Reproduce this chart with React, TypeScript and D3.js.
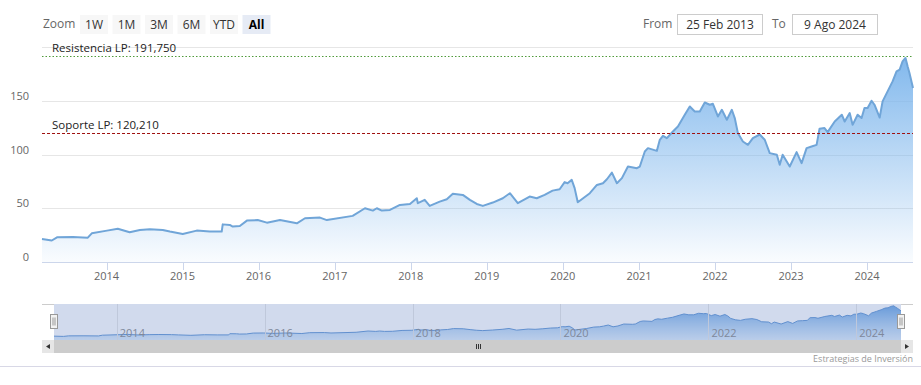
import React, { useEffect, useRef } from "react";
import * as d3 from "d3";

// weekly-ish closes
const dates = [
  "2013-02-25", "2013-04-13", "2013-05-08", "2013-07-23", "2013-10-03", "2013-10-22",
  "2014-01-03", "2014-02-24", "2014-04-22", "2014-06-10", "2014-07-28", "2014-09-28", "2014-11-01",
  "2015-01-02", "2015-03-10", "2015-05-12", "2015-07-08", "2015-07-13", "2015-08-16", "2015-08-30",
  "2015-10-03", "2015-11-06", "2015-12-28",
  "2016-02-10", "2016-04-13", "2016-07-03", "2016-08-11", "2016-10-22", "2016-11-24",
  "2017-03-28", "2017-05-26", "2017-07-03", "2017-07-22", "2017-08-15", "2017-09-23", "2017-11-10", "2017-12-28",
  "2018-01-30", "2018-02-04", "2018-03-09", "2018-04-02", "2018-05-20", "2018-06-23", "2018-07-22",
  "2018-09-08", "2018-10-12", "2018-11-14", "2018-12-13",
  "2019-01-30", "2019-03-19", "2019-04-22", "2019-05-30", "2019-07-26", "2019-08-29", "2019-10-06",
  "2019-11-13", "2019-12-17",
  "2020-01-10", "2020-01-24", "2020-02-13", "2020-02-27", "2020-03-13", "2020-05-10", "2020-06-13",
  "2020-07-12", "2020-07-31", "2020-08-24", "2020-09-17", "2020-10-11", "2020-11-09", "2020-12-22",
  "2021-01-05", "2021-01-29", "2021-02-13", "2021-03-28", "2021-04-11", "2021-04-26", "2021-05-15",
  "2021-06-13", "2021-07-07", "2021-08-09", "2021-09-02", "2021-09-26", "2021-10-20", "2021-11-13",
  "2021-12-07", "2021-12-22",
  "2022-01-15", "2022-02-03", "2022-02-27", "2022-03-23", "2022-04-06", "2022-04-21", "2022-05-15",
  "2022-06-08", "2022-07-02", "2022-08-04", "2022-08-28", "2022-09-21", "2022-10-25", "2022-11-08",
  "2022-11-22", "2022-12-26",
  "2023-01-28", "2023-02-21", "2023-03-17", "2023-04-10", "2023-05-04", "2023-05-18", "2023-06-11",
  "2023-06-26", "2023-07-30", "2023-09-02", "2023-09-16", "2023-10-10", "2023-10-24", "2023-11-17",
  "2023-12-06", "2023-12-20",
  "2024-01-04", "2024-01-23", "2024-02-06", "2024-03-02", "2024-03-16", "2024-04-09", "2024-05-03",
  "2024-05-22", "2024-06-06", "2024-06-20", "2024-07-04", "2024-07-14", "2024-07-23", "2024-08-09",
];

const closes = [
  21.4, 20.0, 23.0, 23.3, 22.6, 26.7,
  29.2, 31.0, 27.7, 29.8, 30.4, 29.8, 28.3,
  26.0, 29.2, 28.3, 28.3, 35.0, 34.5, 33.0,
  33.5, 38.5, 39.0,
  36.6, 39.0, 36.0, 40.7, 41.3, 39.0,
  42.9, 50.0, 47.8, 50.0, 47.8, 48.4, 53.1, 54.0,
  59.3, 54.7, 57.8, 52.2, 56.2, 58.4, 63.4,
  62.4, 57.8, 54.0, 52.2,
  55.3, 59.3, 64.0, 54.7, 60.9, 59.3, 62.4,
  66.4, 67.7,
  74.3, 73.3, 76.4, 68.7, 55.6, 64.0, 71.7,
  73.3, 77.0, 83.2, 73.3, 78.0, 88.8, 87.3,
  88.8, 102.8, 105.9, 103.4, 113.7, 117.4, 115.2,
  121.4, 126.0, 137.0, 144.7, 140.0, 140.0, 148.4,
  146.3, 147.2,
  135.4, 141.6, 132.3, 141.6, 133.9, 119.9, 112.1,
  109.0, 115.2, 118.6, 113.7, 101.3, 99.7, 90.4,
  99.7, 88.8,
  102.2, 92.0, 105.9, 107.4, 109.0, 123.9, 124.6,
  120.8, 130.7, 137.0, 130.7, 138.5, 127.6, 137.0,
  133.9, 143.2,
  143.2, 150.0, 146.3, 134.4, 149.4, 158.7, 168.0,
  177.3, 178.9, 186.6, 189.8, 182.0, 175.8, 161.8,
];

const yTicks = [0, 50, 100, 150, 200];
const navYears = [2014, 2016, 2018, 2020, 2022, 2024];
const zoomButtons = ["1W", "1M", "3M", "6M", "YTD", "All"];
const plotLines = [
  { value: 191.75, label: "Resistencia LP: 191,750", color: "#4f9a3a", dash: "1.5,2" },
  { value: 120.21, label: "Soporte LP: 120,210", color: "#a01010", dash: "3,2" },
];
const fromLabel = "25 Feb 2013";
const toLabel = "9 Ago 2024";
const credits = "Estrategias de Inversión";

const font = "'Open Sans', 'DejaVu Sans', sans-serif";

export default function App() {
  const ref = useRef<SVGSVGElement>(null);

  useEffect(() => {
    const W = 921,
      H = 385;
    const plot = { left: 42, right: 913, top: 47, bottom: 262 };
    const nav = { left: 54, right: 901, top: 304, bottom: 340 };

    const parse = d3.timeParse("%Y-%m-%d");
    const data = dates.map((d, i) => ({ date: parse(d) as Date, value: closes[i] }));
    const start = data[0].date;
    const end = data[data.length - 1].date;

    const svgRoot = d3.select(ref.current);
    svgRoot.selectAll("*").remove();
    const svg = svgRoot
      .attr("width", W)
      .attr("height", H)
      .style("font-family", font);

    svg.append("rect").attr("width", W).attr("height", H).attr("fill", "#fff");

    const defs = svg.append("defs");
    const grad = defs
      .append("linearGradient")
      .attr("id", "areaGrad")
      .attr("gradientUnits", "userSpaceOnUse")
      .attr("x1", 0)
      .attr("x2", 0)
      .attr("y1", plot.top)
      .attr("y2", plot.bottom);
    grad.append("stop").attr("offset", 0).attr("stop-color", "#7cb5ec").attr("stop-opacity", 1);
    grad.append("stop").attr("offset", 1).attr("stop-color", "#7cb5ec").attr("stop-opacity", 0.04);

    const navGrad = defs
      .append("linearGradient")
      .attr("id", "navGrad")
      .attr("gradientUnits", "userSpaceOnUse")
      .attr("x1", 0)
      .attr("x2", 0)
      .attr("y1", nav.top)
      .attr("y2", nav.bottom);
    navGrad.append("stop").attr("offset", 0).attr("stop-color", "#5b9be0").attr("stop-opacity", 0.95);
    navGrad.append("stop").attr("offset", 1).attr("stop-color", "#7cb5ec").attr("stop-opacity", 0.25);

    // ---- main chart
    const x = d3.scaleTime().domain([start, end]).range([plot.left, plot.right]);
    const y = d3.scaleLinear().domain([0, 200]).range([plot.bottom, plot.top]);

    // grid
    svg
      .append("g")
      .selectAll("line")
      .data(yTicks.slice(1))
      .join("line")
      .attr("x1", plot.left)
      .attr("x2", plot.right)
      .attr("y1", (d) => Math.round(y(d)) + 0.5)
      .attr("y2", (d) => Math.round(y(d)) + 0.5)
      .attr("stroke", "#e6e6e6");

    // y labels (top one hidden)
    svg
      .append("g")
      .selectAll("text")
      .data(yTicks.slice(0, -1))
      .join("text")
      .attr("x", 29)
      .attr("y", (d) => y(d) - 1)
      .attr("text-anchor", "end")
      .attr("fill", "#666")
      .style("font-size", "11px")
      .text((d) => d);

    const area = d3
      .area<{ date: Date; value: number }>()
      .x((d) => x(d.date))
      .y0(plot.bottom)
      .y1((d) => y(d.value));
    const line = d3
      .line<{ date: Date; value: number }>()
      .x((d) => x(d.date))
      .y((d) => y(d.value));

    svg.append("path").datum(data).attr("d", area).attr("fill", "url(#areaGrad)");
    svg
      .append("path")
      .datum(data)
      .attr("d", line)
      .attr("fill", "none")
      .attr("stroke", "#70a5d8")
      .attr("stroke-width", 2)
      .attr("stroke-linejoin", "round");

    // x axis
    const xAxis = svg.append("g");
    xAxis
      .append("line")
      .attr("x1", plot.left)
      .attr("x2", plot.right)
      .attr("y1", plot.bottom + 0.5)
      .attr("y2", plot.bottom + 0.5)
      .attr("stroke", "#ccd6eb");
    const years = x.ticks(d3.timeYear.every(1));
    xAxis
      .selectAll("line.tick")
      .data(years)
      .join("line")
      .attr("class", "tick")
      .attr("x1", (d) => Math.round(x(d)) + 0.5)
      .attr("x2", (d) => Math.round(x(d)) + 0.5)
      .attr("y1", plot.bottom)
      .attr("y2", plot.bottom + 8)
      .attr("stroke", "#ccd6eb");
    xAxis
      .selectAll("text")
      .data(years)
      .join("text")
      .attr("x", (d) => x(d))
      .attr("y", 280)
      .attr("text-anchor", "middle")
      .attr("fill", "#666")
      .style("font-size", "11px")
      .text((d) => d3.timeFormat("%Y")(d));

    // plot lines
    const pl = svg.append("g").selectAll("g").data(plotLines).join("g");
    pl.append("line")
      .attr("x1", plot.left)
      .attr("x2", plot.right)
      .attr("y1", (d) => Math.round(y(d.value)) + 0.5)
      .attr("y2", (d) => Math.round(y(d.value)) + 0.5)
      .attr("stroke", (d) => d.color)
      .attr("stroke-dasharray", (d) => d.dash);
    pl.append("text")
      .attr("x", 52)
      .attr("y", (d) => y(d.value) - 4)
      .attr("fill", "#222")
      .style("font-size", "11.5px")
      .text((d) => d.label);

    // ---- range selector
    svg
      .append("text")
      .attr("x", 43)
      .attr("y", 28)
      .attr("fill", "#666")
      .style("font-size", "12px")
      .text("Zoom");
    const btn = svg
      .append("g")
      .selectAll("g")
      .data(zoomButtons)
      .join("g")
      .attr("transform", (d, i) => `translate(${80 + i * 32.5},15)`);
    btn
      .append("rect")
      .attr("width", 28)
      .attr("height", 19)
      .attr("fill", (d) => (d === "All" ? "#e6ebf5" : "#f7f7f7"));
    btn
      .append("text")
      .attr("x", 14)
      .attr("y", 13.5)
      .attr("text-anchor", "middle")
      .attr("fill", (d) => (d === "All" ? "#000" : "#333"))
      .style("font-weight", (d) => (d === "All" ? "bold" : "normal"))
      .style("font-size", "12px")
      .text((d) => d);

    const inputs = [
      { label: "From", lx: 643, bx: 677, text: fromLabel },
      { label: "To", lx: 772, bx: 792, text: toLabel },
    ];
    const inp = svg.append("g").selectAll("g").data(inputs).join("g");
    inp
      .append("text")
      .attr("x", (d) => d.lx)
      .attr("y", 28)
      .attr("fill", "#666")
      .style("font-size", "12px")
      .text((d) => d.label);
    inp
      .append("rect")
      .attr("x", (d) => d.bx + 0.5)
      .attr("y", 14.5)
      .attr("width", 85)
      .attr("height", 20)
      .attr("fill", "#fff")
      .attr("stroke", "#cccccc");
    inp
      .append("text")
      .attr("x", (d) => d.bx + 43)
      .attr("y", 28.5)
      .attr("text-anchor", "middle")
      .attr("fill", "#333")
      .style("font-size", "12px")
      .text((d) => d.text);

    // ---- navigator
    const nx = d3.scaleTime().domain([start, end]).range([nav.left, nav.right]);
    const ny = d3.scaleLinear().domain([0, 200]).range([nav.bottom, nav.top]);

    const navG = svg.append("g");
    navG
      .append("path")
      .datum(data)
      .attr(
        "d",
        d3
          .area<{ date: Date; value: number }>()
          .x((d) => nx(d.date))
          .y0(nav.bottom)
          .y1((d) => ny(d.value))
      )
      .attr("fill", "url(#navGrad)");
    navG
      .append("path")
      .datum(data)
      .attr(
        "d",
        d3
          .line<{ date: Date; value: number }>()
          .x((d) => nx(d.date))
          .y((d) => ny(d.value))
      )
      .attr("fill", "none")
      .attr("stroke", "#5f95d4")
      .attr("stroke-width", 1);

    const navTicks = navYears.map((yr) => new Date(yr, 0, 1));
    navG
      .selectAll("line.grid")
      .data(navTicks)
      .join("line")
      .attr("class", "grid")
      .attr("x1", (d) => Math.round(nx(d)) + 0.5)
      .attr("x2", (d) => Math.round(nx(d)) + 0.5)
      .attr("y1", nav.top)
      .attr("y2", nav.bottom)
      .attr("stroke", "#e6e6e6");
    navG
      .selectAll("text")
      .data(navTicks)
      .join("text")
      .attr("x", (d) => nx(d) + 3)
      .attr("y", 337)
      .attr("fill", "#8a8a8a")
      .style("font-size", "11px")
      .text((d) => d3.timeFormat("%Y")(d));

    // selected range mask (whole range)
    navG
      .append("rect")
      .attr("x", nav.left)
      .attr("y", nav.top)
      .attr("width", nav.right - nav.left)
      .attr("height", nav.bottom - nav.top)
      .attr("fill", "rgba(102,133,194,0.3)");
    navG
      .append("line")
      .attr("x1", plot.left)
      .attr("x2", nav.left)
      .attr("y1", nav.top + 0.5)
      .attr("y2", nav.top + 0.5)
      .attr("stroke", "#ccc");
    navG
      .append("line")
      .attr("x1", nav.right)
      .attr("x2", plot.right)
      .attr("y1", nav.top + 0.5)
      .attr("y2", nav.top + 0.5)
      .attr("stroke", "#ccc");

    // handles
    const handles = navG
      .selectAll("g.handle")
      .data([nav.left, nav.right])
      .join("g")
      .attr("class", "handle")
      .attr("transform", (d) => `translate(${Math.round(d) - 3.5},${314.5})`);
    handles
      .append("rect")
      .attr("width", 7)
      .attr("height", 14)
      .attr("fill", "#f2f2f2")
      .attr("stroke", "#999");
    handles
      .selectAll("line")
      .data([2.5, 4.5])
      .join("line")
      .attr("x1", (d) => d)
      .attr("x2", (d) => d)
      .attr("y1", 3)
      .attr("y2", 11)
      .attr("stroke", "#999");

    // scrollbar
    const sb = svg.append("g").attr("transform", `translate(0,${nav.bottom})`);
    sb.append("rect")
      .attr("x", plot.left)
      .attr("width", plot.right - plot.left)
      .attr("height", 13)
      .attr("fill", "#f2f2f2");
    sb.append("rect")
      .attr("x", nav.left)
      .attr("width", nav.right - nav.left)
      .attr("height", 13)
      .attr("fill", "#cccccc");
    sb.selectAll("rect.btn")
      .data([plot.left, nav.right])
      .join("rect")
      .attr("class", "btn")
      .attr("x", (d) => d)
      .attr("width", 12)
      .attr("height", 13)
      .attr("fill", "#e6e6e6");
    sb.append("path").attr("d", "M50,4 L46,6.5 L50,9 Z").attr("fill", "#333");
    sb.append("path").attr("d", "M905,4 L909,6.5 L905,9 Z").attr("fill", "#333");
    const cx = (plot.left + plot.right) / 2;
    sb.selectAll("line.grip")
      .data([-2, 0, 2])
      .join("line")
      .attr("class", "grip")
      .attr("x1", (d) => Math.round(cx + d) + 0.5)
      .attr("x2", (d) => Math.round(cx + d) + 0.5)
      .attr("y1", 4)
      .attr("y2", 9)
      .attr("stroke", "#333");

    // credits + bottom border
    svg
      .append("text")
      .attr("x", plot.right)
      .attr("y", 362)
      .attr("text-anchor", "end")
      .attr("fill", "#999")
      .style("font-size", "9px")
      .text(credits);
    svg
      .append("line")
      .attr("x1", 0)
      .attr("x2", W)
      .attr("y1", 366.5)
      .attr("y2", 366.5)
      .attr("stroke", "#d8d8e6");
  }, []);

  return (
    <svg
      ref={ref}
      style={{ position: "absolute", left: 0, top: 0, display: "block" }}
    ></svg>
  );
}
